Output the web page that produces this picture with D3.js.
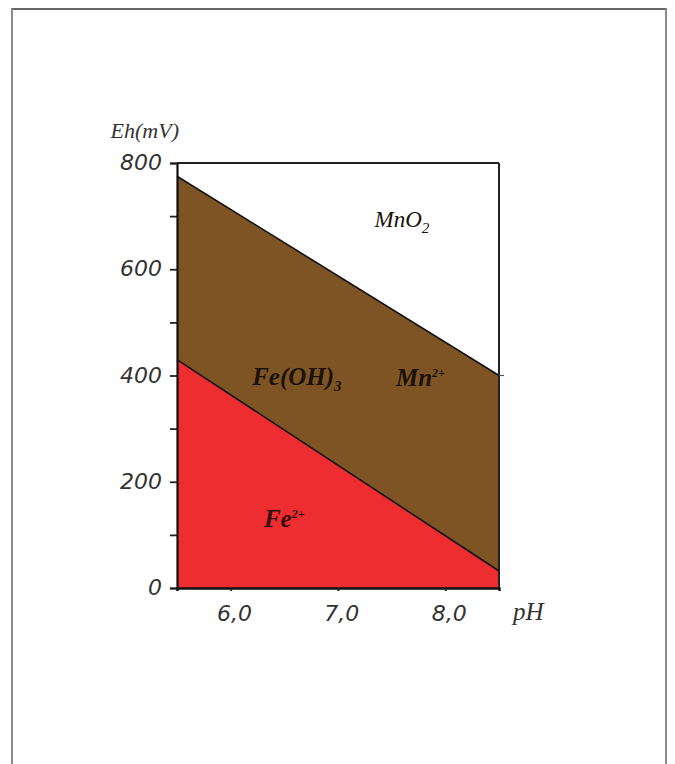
<!DOCTYPE html>
<html>
<head>
<meta charset="utf-8">
<script src="https://cdn.jsdelivr.net/npm/d3@7"></script>
<style>
  html, body { margin: 0; padding: 0; background: #fff; }
  svg { display: block; }
</style>
</head>
<body>
<svg id="chart" width="675" height="764"></svg>
<script>
// ---- data ----
const pHRange = [5.5, 8.5];
const ehRange = [0, 800];
const boundaryPH = [5.5, 8.5];
const upperBoundary = [775, 400];   // Fe(OH)3 / MnO2 boundary (mV)
const lowerBoundary = [430, 32];    // Fe2+ / Fe(OH)3 boundary (mV)
const xTicks = [6, 7, 8];
const xTickLabels = ["6,0", "7,0", "8,0"];
const yTicks = [0, 200, 400, 600, 800];
const yMinorTicks = [100, 300, 500, 700];
const yTickLabels = ["0", "200", "400", "600", "800"];
const regionNames = ["MnO", "Fe(OH)", "Mn", "Fe"];
const regionScripts = ["2", "3", "2+", "2+"];
const regionScriptType = ["sub", "sub", "sup", "sup"];
const regionPH = [7.34, 6.2, 7.54, 6.31];
const regionEh = [680, 382, 380, 115];
const xTitle = "pH";
const yTitle = "Eh(mV)";

// ---- layout ----
const svg = d3.select("#chart");
const x = d3.scaleLinear().domain(pHRange).range([177, 499]);
const y = d3.scaleLinear().domain(ehRange).range([588, 163]);

// outer frame
svg.append("line").attr("x1", 11).attr("x2", 667).attr("y1", 9).attr("y2", 9)
  .attr("stroke", "#333").attr("stroke-width", 1.5);
svg.append("line").attr("x1", 12).attr("x2", 12).attr("y1", 8.5).attr("y2", 764)
  .attr("stroke", "#8c8c8c").attr("stroke-width", 2);
svg.append("line").attr("x1", 666).attr("x2", 666).attr("y1", 8.5).attr("y2", 764)
  .attr("stroke", "#8c8c8c").attr("stroke-width", 2);

const pts = boundaryPH.map((p, i) => ({ p, up: upperBoundary[i], lo: lowerBoundary[i] }));

// red area: Fe2+
svg.append("path")
  .datum(pts)
  .attr("fill", "#ee2d30")
  .attr("d", d3.area().x(d => x(d.p)).y0(y(0)).y1(d => y(d.lo)));

// brown area: Fe(OH)3
svg.append("path")
  .datum(pts)
  .attr("fill", "#7e5424")
  .attr("d", d3.area().x(d => x(d.p)).y0(d => y(d.lo)).y1(d => y(d.up)));

// boundary lines
const line = key => d3.line().x(d => x(d.p)).y(d => y(d[key]));
svg.append("path").datum(pts).attr("fill", "none").attr("stroke", "#111")
  .attr("stroke-width", 1.6).attr("d", line("up"));
svg.append("path").datum(pts).attr("fill", "none").attr("stroke", "#111")
  .attr("stroke-width", 1.6).attr("d", line("lo"));

// frame lines (top and right)
svg.append("line").attr("x1", x(pHRange[0])).attr("x2", x(pHRange[1]))
  .attr("y1", y(ehRange[1])).attr("y2", y(ehRange[1]))
  .attr("stroke", "#222").attr("stroke-width", 2);
svg.append("line").attr("x1", x(pHRange[1])).attr("x2", x(pHRange[1]))
  .attr("y1", y(ehRange[1])).attr("y2", y(ehRange[0]))
  .attr("stroke", "#222").attr("stroke-width", 2);
// small mark on right border where the upper boundary ends
svg.append("line").attr("x1", x(pHRange[1])).attr("x2", x(pHRange[1]) + 5)
  .attr("y1", y(upperBoundary[1])).attr("y2", y(upperBoundary[1]))
  .attr("stroke", "#555").attr("stroke-width", 1.2);

// y axis
const yAxis = svg.append("g").attr("transform", `translate(${x(pHRange[0])},0)`)
  .call(d3.axisLeft(y).tickValues(yTicks).tickSize(7).tickPadding(8)
        .tickFormat((d, i) => yTickLabels[i]));
yAxis.select(".domain").attr("stroke", "#111").attr("stroke-width", 2.2);
yAxis.selectAll(".tick line").attr("stroke", "#222").attr("stroke-width", 1.8);
yAxis.selectAll(".tick text")
  .attr("font-family", "'DejaVu Sans', Verdana, sans-serif")
  .attr("font-style", "italic").attr("font-size", 22).attr("fill", "#333")
  .attr("dy", "0.3em");
const yMinor = svg.append("g").attr("transform", `translate(${x(pHRange[0])},0)`)
  .call(d3.axisLeft(y).tickValues(yMinorTicks).tickSize(7).tickFormat(""));
yMinor.select(".domain").remove();
yMinor.selectAll(".tick line").attr("stroke", "#222").attr("stroke-width", 1.8);

// x axis
const xAxis = svg.append("g").attr("transform", `translate(0,${y(ehRange[0])})`)
  .call(d3.axisBottom(x).tickValues(xTicks).tickSize(3).tickPadding(14)
        .tickFormat((d, i) => xTickLabels[i]));
xAxis.select(".domain").attr("stroke", "#111").attr("stroke-width", 2.4);
xAxis.selectAll(".tick line").attr("stroke", "#222").attr("stroke-width", 2);
xAxis.selectAll(".tick text")
  .attr("font-family", "'DejaVu Sans', Verdana, sans-serif")
  .attr("font-style", "italic").attr("font-size", 22).attr("fill", "#333")
  .attr("dx", "0.15em");

// axis titles
svg.append("text").attr("x", x(pHRange[1]) + 14).attr("y", 620)
  .attr("font-family", "'Liberation Serif', 'Times New Roman', serif")
  .attr("font-style", "italic").attr("font-size", 25).attr("fill", "#333")
  .text(xTitle);
svg.append("text").attr("x", x(pHRange[0]) + 2).attr("y", 138)
  .attr("text-anchor", "end")
  .attr("font-family", "'Liberation Serif', 'Times New Roman', serif")
  .attr("font-style", "italic").attr("font-size", 22).attr("fill", "#333")
  .text(yTitle);

// region labels
regionNames.forEach((name, i) => {
  const t = svg.append("text")
    .attr("x", x(regionPH[i])).attr("y", y(regionEh[i]))
    .attr("font-family", "'Liberation Serif', 'Times New Roman', serif")
    .attr("font-style", "italic")
    .attr("font-weight", i === 0 ? "normal" : "bold")
    .attr("font-size", i === 0 ? 23 : 25)
    .attr("fill", i === 3 ? "#3a0a0a" : "#1a1208");
  t.append("tspan").text(name);
  const isSub = regionScriptType[i] === "sub";
  t.append("tspan").attr("font-size", isSub ? 15 : 12)
    .attr("dy", isSub ? 6 : -9).text(regionScripts[i]);
});
</script>
</body>
</html>
